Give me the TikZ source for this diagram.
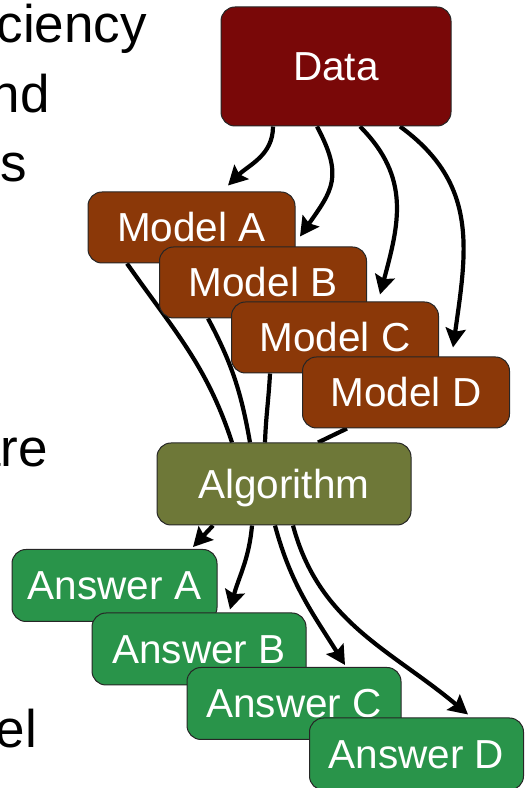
\documentclass[tikz,border=0pt]{standalone}
\usepackage{fontspec}
\setmainfont{Liberation Sans}
\usetikzlibrary{arrows.meta,backgrounds}

\definecolor{datared}{RGB}{121,8,8}
\definecolor{modelbrown}{RGB}{139,56,8}
\definecolor{algoolive}{RGB}{110,120,56}
\definecolor{answergreen}{RGB}{41,148,74}

\begin{document}
\begin{tikzpicture}[
		x=1pt, y=1pt,
		box/.style={draw=black!85, line width=1pt, rounded corners=14pt, text=white,
			font=\fontsize{40.5}{44}\selectfont, text height=29pt, text depth=0pt},
		datum/.style={box, fill=datared, minimum width=230pt, minimum height=119pt},
		model/.style={box, fill=modelbrown, minimum width=207pt, minimum height=71pt},
		algo/.style={box, fill=algoolive, minimum width=254pt, minimum height=82pt},
		answer/.style={box, fill=answergreen, minimum width=214pt, minimum height=72pt},
		slidetext/.style={anchor=base east, inner sep=0pt, font=\fontsize{53}{60}\selectfont},
		feed/.style={line width=4.2pt},
		flow/.style={feed, -{Stealth[length=19pt,width=20pt,inset=3pt]}}
	]
	\useasboundingbox (0,0) rectangle (529,788);

	% cut-off slide text on the left
	\node[slidetext] (t1) at (147,745) {ciency};
	\node[slidetext] (t2) at (50,675) {nd};
	\node[slidetext] (t3) at (27,606) {s};
	\node[slidetext] (t4) at (48,321) {are};
	\node[slidetext] (t5) at (37,41) {el};

	\node[datum] (data) at (336,721.5) {Data};

	\node[model] (ma) at (191.5,560.5) {Model A};
	\node[model] (mb) at (263,505.5) {Model B};
	\node[model] (mc) at (335,450.5) {Model C};
	\node[model] (md) at (406,395.5) {Model D};

	\node[algo] (alg) at (284,304) {Algorithm};

	\node[answer, minimum width=205pt] (aa) at (114.5,202.5) {Answer A};
	\node[answer] (ab) at (199,139) {Answer B};
	\node[answer] (ac) at (294,84.5) {Answer C};
	\node[answer] (ad) at (416.5,34) {Answer D};

	\begin{pgfonlayer}{background}
		% data feeds every model
		\draw[flow] ([xshift=-63pt]data.south) to[out=-90, in=45] ([xshift=36.5pt,yshift=6pt]ma.north);
		\draw[flow] ([xshift=-19pt]data.south) to[out=-62, in=55, looseness=1.3] ([xshift=37pt,yshift=10pt]mb.north);
		\draw[flow] ([xshift=24pt]data.south) to[out=-45, in=75, looseness=1.1] ([xshift=45pt,yshift=7pt]mc.north);
		\draw[flow] ([xshift=64pt]data.south) to[out=-36, in=82, looseness=1.1] ([xshift=47pt,yshift=9pt]md.north);

		% models into the algorithm
		\draw[feed] ([xshift=-64.5pt]ma.south) to[out=-55, in=108] ([xshift=-52pt]alg.north);
		\draw[feed] ([xshift=-55pt]mb.south) to[out=-62, in=100] ([xshift=-34pt]alg.north);
		\draw[feed] ([xshift=-65pt]mc.south) to[out=-93, in=88] ([xshift=-19pt]alg.north);
		\draw[feed] ([xshift=-59pt]md.south) -- ([xshift=34pt]alg.north);

		% algorithm gives the answers
		\draw[flow] ([xshift=-71pt]alg.south) -- ([xshift=78.5pt,yshift=2pt]aa.north);
		\draw[flow] ([xshift=-32pt]alg.south) to[out=-95, in=75] ([xshift=31pt,yshift=3pt]ab.north);
		\draw[flow] ([xshift=-9pt]alg.south) to[out=-75, in=122] ([xshift=51pt,yshift=2pt]ac.north);
		\draw[flow] ([xshift=9pt]alg.south) to[out=-75, in=140] ([xshift=51.5pt,yshift=3pt]ad.north);
	\end{pgfonlayer}
\end{tikzpicture}
\end{document}
